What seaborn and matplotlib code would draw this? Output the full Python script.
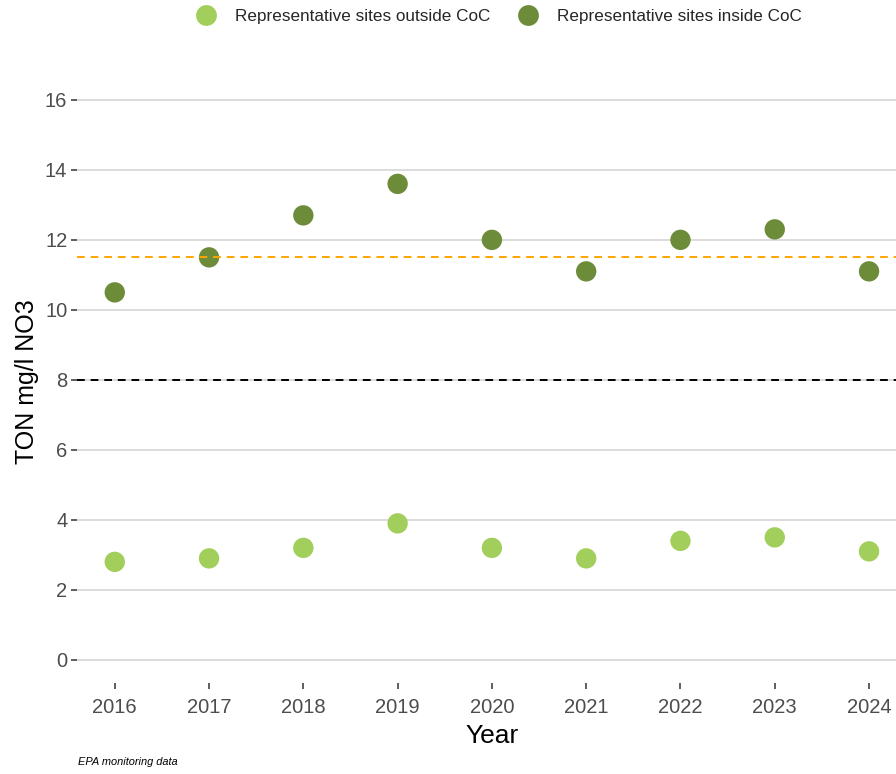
import pandas as pd
import matplotlib.pyplot as plt
import seaborn as sns

years = [2016, 2017, 2018, 2019, 2020, 2021, 2022, 2023, 2024]
outside_coc = [2.8, 2.9, 3.2, 3.9, 3.2, 2.9, 3.4, 3.5, 3.1]
inside_coc = [10.5, 11.5, 12.7, 13.6, 12.0, 11.1, 12.0, 12.3, 11.1]
series_labels = ["Representative sites outside CoC", "Representative sites inside CoC"]
y_ticks = [0, 2, 4, 6, 8, 10, 12, 14, 16]
threshold_black = 8
threshold_orange = 11.5

colors = {series_labels[0]: "#A2CF5B", series_labels[1]: "#6C8C3A"}

df = pd.concat(
    [
        pd.DataFrame({"year": years, "ton": outside_coc, "group": series_labels[0]}),
        pd.DataFrame({"year": years, "ton": inside_coc, "group": series_labels[1]}),
    ]
)

sns.set_theme(style="white")
plt.rcParams["font.family"] = ["Liberation Sans", "DejaVu Sans"]

fig = plt.figure(figsize=(8.96, 7.74), dpi=100)
ax = fig.add_axes([0.086, 0.1176, 0.926, 0.7778])

for y in y_ticks:
    ax.axhline(y, color="#dcdcdc", linewidth=1.4, zorder=0)

ax.axhline(threshold_black, color="black", linestyle=(0, (4, 3)), linewidth=1.4, zorder=1)
ax.axhline(threshold_orange, color="#FFA500", linestyle=(0, (4, 3)), linewidth=1.4, zorder=3)

sns.scatterplot(
    data=df,
    x="year",
    y="ton",
    hue="group",
    hue_order=series_labels,
    palette=colors,
    s=215,
    edgecolor="none",
    zorder=2,
    legend=False,
    ax=ax,
)

ax.set_xlim(2015.6, 2024.4)
ax.set_ylim(-0.66, 16.54)
ax.set_xticks(years)
ax.set_yticks(y_ticks)
ax.tick_params(axis="both", which="major", length=4, width=1.1, color="#333333",
               labelsize=14.5, labelcolor="#4d4d4d", direction="out",
               bottom=True, left=True)
ax.tick_params(axis="x", pad=7)
ax.tick_params(axis="y", pad=3)
ax.set_xlabel("Year", fontsize=19, color="black", labelpad=5)
ax.set_ylabel("TON mg/l NO3", fontsize=18, color="black", labelpad=4)
for s in ax.spines.values():
    s.set_visible(False)

handles = [
    plt.Line2D([0], [0], marker="o", linestyle="none", markersize=15,
               markerfacecolor=colors[lbl], markeredgecolor="none", label=lbl)
    for lbl in series_labels
]
fig.legend(handles=handles, loc="upper center", bbox_to_anchor=(0.553, 1.008),
           ncol=2, frameon=False, fontsize=12.3, handletextpad=0.7, columnspacing=1.2)

fig.text(0.087, 0.011, "EPA monitoring data", fontsize=7.9, style="italic", color="black")

fig.savefig("out.png", dpi=100)
